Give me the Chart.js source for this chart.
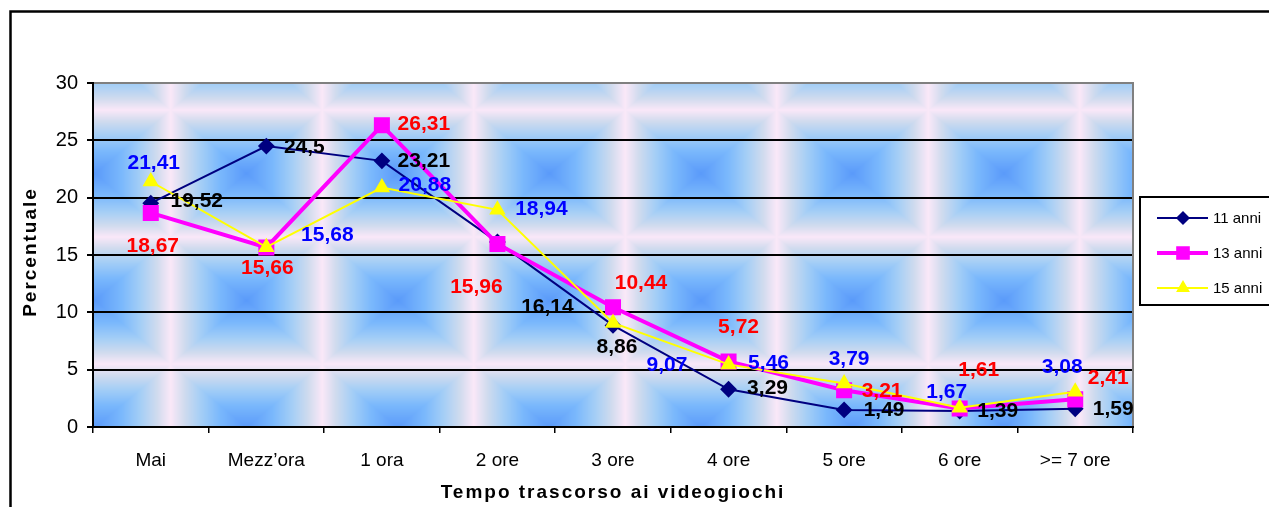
<!DOCTYPE html>
<html>
<head>
<meta charset="utf-8">
<script src="https://cdn.jsdelivr.net/npm/chart.js@4"></script>
<style>
  html, body { margin: 0; padding: 0; background: #fff; }
  #wrap { position: relative; width: 1269px; height: 507px; }
</style>
</head>
<body>
<div id="wrap"><canvas id="chart" width="1269" height="507"></canvas></div>
<script>
const categories = ['Mai', 'Mezz\u2019ora', '1 ora', '2 ore', '3 ore', '4 ore', '5 ore', '6 ore', '>= 7 ore'];
const anni11 = [19.52, 24.5, 23.21, 16.14, 8.86, 3.29, 1.49, 1.39, 1.59];
const anni13 = [18.67, 15.66, 26.31, 15.96, 10.44, 5.72, 3.21, 1.61, 2.41];
const anni15 = [21.41, 15.68, 20.88, 18.94, 9.07, 5.46, 3.79, 1.67, 3.08];
const yTicks = [0, 5, 10, 15, 20, 25, 30];

// where each value label sits, relative to its point (Excel placed them by hand)
const offs11 = [[46, -2], [38, 1], [42, 0], [50, 65], [4, 22], [39, -1], [40, 0], [38, 0], [38, 0]];
const offs13 = [[2, 33], [1, 21], [42, -1], [-21, 43], [28, -24], [10, -34], [38, 1], [19, -38], [33, -21]];
const offs15 = [[3, -18], [61, -12], [43, -2], [44, -1], [54, 42], [40, -1], [5, -24], [-13, -16], [-13, -24]];

const FONT = "'Liberation Sans', Arial, sans-serif";

// tiled "from centre" gradient fill of the plot area
function paintBackground(ctx, area) {
  const w = Math.round(area.right - area.left), h = Math.round(area.bottom - area.top);
  const off = document.createElement('canvas');
  off.width = w; off.height = h;
  const octx = off.getContext('2d');
  const img = octx.createImageData(w, h);
  const TW = 151.5, TH = 127;
  const cx0 = 246 - area.left, cy0 = 427 - area.top;
  const stops = [
    [0, [90, 154, 250]],
    [0.35, [122, 184, 252]],
    [0.6, [164, 206, 246]],
    [0.82, [208, 219, 238]],
    [1, [250, 232, 248]]
  ];
  function col(t) {
    for (let i = 1; i < stops.length; i++) {
      if (t <= stops[i][0]) {
        const a = stops[i - 1], b = stops[i];
        const k = (t - a[0]) / (b[0] - a[0]);
        return [0, 1, 2].map(j => a[1][j] + (b[1][j] - a[1][j]) * k);
      }
    }
    return stops[stops.length - 1][1];
  }
  for (let y = 0; y < h; y++) {
    let dy = (y - cy0) / TH;
    dy = Math.abs(dy - Math.round(dy)) * 2;
    for (let x = 0; x < w; x++) {
      let dx = (x - cx0) / TW;
      dx = Math.abs(dx - Math.round(dx)) * 2;
      const c = col(Math.min(1, Math.max(dx, dy)));
      const p = (y * w + x) * 4;
      img.data[p] = c[0]; img.data[p + 1] = c[1]; img.data[p + 2] = c[2]; img.data[p + 3] = 255;
    }
  }
  octx.putImageData(img, 0, 0);
  ctx.drawImage(off, area.left, area.top);
}

const decor = {
  id: 'decor',
  beforeDraw(chart) {
    const { ctx, chartArea } = chart;
    ctx.save();
    ctx.fillStyle = '#fff';
    ctx.fillRect(0, 0, chart.width, chart.height);
    paintBackground(ctx, chartArea);
    // outer frame
    ctx.strokeStyle = '#000';
    ctx.lineWidth = 2.5;
    ctx.beginPath();
    ctx.moveTo(10.5, 520); ctx.lineTo(10.5, 11.5); ctx.lineTo(1290, 11.5);
    ctx.stroke();
    ctx.restore();
  },
  beforeDatasetsDraw(chart) {
    const { ctx, chartArea: a } = chart;
    ctx.save();
    ctx.lineWidth = 2;
    ctx.strokeStyle = '#808080';
    ctx.beginPath();
    ctx.moveTo(a.left, a.top); ctx.lineTo(a.right, a.top); ctx.lineTo(a.right, a.bottom);
    ctx.stroke();
    ctx.strokeStyle = '#000';
    ctx.beginPath();
    ctx.moveTo(a.left, a.top - 1); ctx.lineTo(a.left, a.bottom); ctx.lineTo(a.right + 1, a.bottom);
    ctx.stroke();

    // axis titles
    ctx.fillStyle = '#000';
    ctx.font = 'bold 19px ' + FONT;
    ctx.letterSpacing = '2px';
    ctx.textAlign = 'center';
    ctx.textBaseline = 'middle';
    ctx.fillText('Tempo trascorso ai videogiochi', (a.left + a.right) / 2, 493);
    ctx.translate(31, (a.top + a.bottom) / 2 - 3);
    ctx.rotate(-Math.PI / 2);
    ctx.fillText('Percentuale', 0, 0);
    ctx.restore();
  },
  afterDatasetsDraw(chart) {
    const { ctx } = chart;
    ctx.save();
    ctx.font = 'bold 21px ' + FONT;
    ctx.textAlign = 'center';
    ctx.textBaseline = 'middle';
    chart.data.datasets.forEach((ds, i) => {
      const meta = chart.getDatasetMeta(i);
      meta.data.forEach((pt, j) => {
        const o = ds.labelOffsets[j];
        ctx.fillStyle = ds.labelColor;
        ctx.fillText(String(ds.data[j]).replace('.', ','), pt.x + o[0], pt.y + o[1]);
      });
    });

    // legend
    const lx = 1140, ly = 197;
    ctx.lineWidth = 2;
    ctx.strokeStyle = '#000';
    ctx.fillStyle = '#fff';
    ctx.fillRect(lx, ly, 140, 108);
    ctx.strokeRect(lx, ly, 140, 108);
    ctx.font = '15px ' + FONT;
    ctx.textAlign = 'left';
    chart.data.datasets.forEach((ds, i) => {
      const y = 218 + i * 35;
      ctx.strokeStyle = ds.borderColor;
      ctx.lineWidth = ds.borderWidth;
      ctx.beginPath();
      ctx.moveTo(1157, y); ctx.lineTo(1208, y);
      ctx.stroke();
      Chart.helpers.drawPoint(ctx, {
        pointStyle: ds.pointStyle, radius: ds.pointRadius * 0.8, borderWidth: 1
      }, 1183, y);
      ctx.fillStyle = ds.pointBackgroundColor;
      ctx.strokeStyle = ds.pointBorderColor;
      ctx.lineWidth = 1;
      ctx.fill();
      ctx.stroke();
      ctx.fillStyle = '#000';
      ctx.fillText(ds.label, 1213, y + 1);
    });
    ctx.restore();
  }
};

new Chart(document.getElementById('chart'), {
  type: 'line',
  data: {
    labels: categories,
    datasets: [
      {
        label: '11 anni', data: anni11, labelOffsets: offs11, labelColor: '#000000',
        borderColor: '#000080', borderWidth: 2,
        pointStyle: 'rectRot', pointRadius: 7,
        pointBackgroundColor: '#000080', pointBorderColor: '#000080',
        tension: 0, order: 3
      },
      {
        label: '13 anni', data: anni13, labelOffsets: offs13, labelColor: '#ff0000',
        borderColor: '#ff00ff', borderWidth: 4,
        pointStyle: 'rect', pointRadius: 8.5,
        pointBackgroundColor: '#ff00ff', pointBorderColor: '#ff00ff',
        tension: 0, order: 2
      },
      {
        label: '15 anni', data: anni15, labelOffsets: offs15, labelColor: '#0000ff',
        borderColor: '#ffff00', borderWidth: 2,
        pointStyle: 'triangle', pointRadius: 7.5,
        pointBackgroundColor: '#ffff00', pointBorderColor: '#ffff00',
        tension: 0, order: 1
      }
    ]
  },
  options: {
    responsive: false,
    animation: false,
    events: [],
    layout: { padding: { top: 83, right: 136, left: 0, bottom: 0 } },
    plugins: { legend: { display: false }, tooltip: { enabled: false } },
    scales: {
      x: {
        offset: true,
        grid: { offset: true, drawOnChartArea: false, drawTicks: true, tickLength: 6, color: '#000', lineWidth: 1.5 },
        border: { display: false },
        ticks: { color: '#000', font: { family: FONT, size: 19 }, padding: 16, maxRotation: 0, autoSkip: false },
        afterFit: s => { s.height = 80; }
      },
      y: {
        min: 0, max: 30,
        afterBuildTicks: s => { s.ticks = yTicks.map(v => ({ value: v })); },
        grid: {
          color: c => (c.tick && c.tick.value === 30 ? 'rgba(0,0,0,0)' : '#000'),
          tickColor: '#000', lineWidth: 2, tickLength: 6
        },
        border: { display: false },
        ticks: { color: '#000', font: { family: FONT, size: 20 }, padding: 9 },
        afterFit: s => { s.width = 93; }
      }
    }
  },
  plugins: [decor]
});
</script>
</body>
</html>
